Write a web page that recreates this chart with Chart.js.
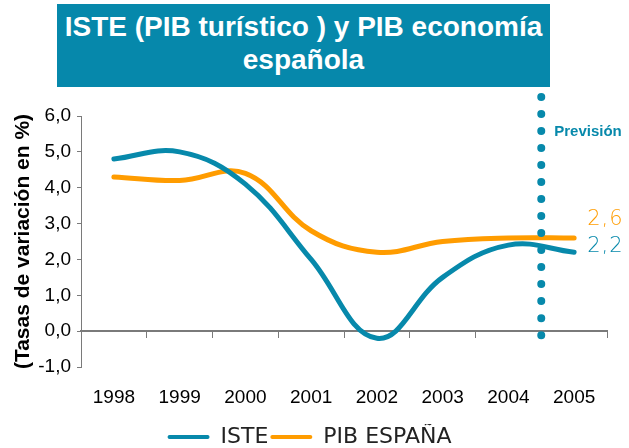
<!DOCTYPE html>
<html>
<head>
<meta charset="utf-8">
<script src="https://cdn.jsdelivr.net/npm/chart.js@4"></script>
<style>
  body { margin: 0; background: #fff; }
  #wrap { position: relative; width: 629px; height: 448px; }
  #titulo {
    position: absolute; left: 57px; top: 4px; width: 493px; height: 83px;
    box-sizing: border-box; padding-top: 6px;
    background: #0688ab; color: #fff;
    font: bold 28px "Liberation Sans", Arial, sans-serif; line-height: 33px;
    text-align: center; white-space: nowrap;
  }
</style>
</head>
<body>
<div id="wrap">
  <canvas id="myChart" width="629" height="448"></canvas>
  <div id="titulo">ISTE (PIB turístico ) y PIB economía<br>española</div>
</div>
<script>
const years = ['1998', '1999', '2000', '2001', '2002', '2003', '2004', '2005'];
const iste = [4.8, 5.0, 4.1, 2.0, -0.2, 1.5, 2.4, 2.2];
const pibEspana = [4.3, 4.2, 4.4, 2.8, 2.2, 2.5, 2.6, 2.6];
// la previsión empieza entre 2004 y 2005 (índice de categoría)
const previsionDesde = 6.5;

const TEAL = '#0789ab';
const ORANGE = '#ff9c00';
const AXIS = '#7a7a7a';

function coma(v) {
  return v.toFixed(1).replace('.', ',');
}

// línea punteada de previsión y valores finales de cada serie
const anotaciones = {
  id: 'anotaciones',
  afterDatasetsDraw(chart) {
    const ctx = chart.ctx;
    const area = chart.chartArea;
    const x = chart.scales.x.getPixelForValue(previsionDesde);
    const top = area.top - 19;
    const bottom = chart.scales.y.getPixelForValue(0) + 4;
    ctx.save();
    ctx.strokeStyle = TEAL;
    ctx.lineWidth = 8;
    ctx.lineCap = 'round';
    ctx.setLineDash([0, (bottom - top) / 14]);
    ctx.beginPath();
    ctx.moveTo(x, top);
    ctx.lineTo(x, bottom + 1);
    ctx.stroke();
    ctx.setLineDash([]);

    ctx.fillStyle = TEAL;
    ctx.font = 'bold 15px "Liberation Sans", Arial, sans-serif';
    ctx.textBaseline = 'middle';
    ctx.textAlign = 'left';
    ctx.fillText('Previsión', x + 13, area.top + 16);

    const dy = [-6, -18];
    ctx.font = '200 21px "DejaVu Sans", sans-serif';
    ctx.letterSpacing = '1px';
    chart.data.datasets.forEach((ds, i) => {
      const meta = chart.getDatasetMeta(i);
      const last = meta.data[meta.data.length - 1];
      ctx.fillStyle = ds.borderColor;
      ctx.fillText(coma(ds.data[ds.data.length - 1]), last.x + 13, last.y + dy[i]);
    });
    ctx.restore();
  }
};

const ctx = document.getElementById('myChart').getContext('2d');
const myChart = new Chart(ctx, {
  type: 'line',
  data: {
    labels: years,
    datasets: [{
      label: 'ISTE',
      data: iste,
      borderColor: TEAL,
      backgroundColor: TEAL,
      borderWidth: 5,
      borderCapStyle: 'round',
      pointRadius: 0,
      tension: 0.4
    }, {
      label: 'PIB ESPAÑA',
      data: pibEspana,
      borderColor: ORANGE,
      backgroundColor: ORANGE,
      borderWidth: 5,
      borderCapStyle: 'round',
      pointRadius: 0,
      tension: 0.4
    }]
  },
  options: {
    responsive: false,
    animation: false,
    layout: { padding: { top: 116, right: 10, bottom: -10, left: 0 } },
    plugins: {
      tooltip: { enabled: false },
      legend: {
        position: 'bottom',
        labels: {
          boxWidth: 42,
          boxHeight: 4,
          useBorderRadius: true,
          borderRadius: 2,
          padding: 2,
          color: '#222',
          font: { family: '"DejaVu Sans", sans-serif', size: 22 },
          generateLabels(chart) {
            return Chart.defaults.plugins.legend.labels.generateLabels(chart)
              .map(item => Object.assign(item, { lineWidth: 0 }));
          }
        }
      }
    },
    scales: {
      x: {
        offset: true,
        grid: { display: false, drawTicks: false },
        border: { display: false },
        ticks: {
          color: '#000',
          padding: 19,
          maxRotation: 0,
          autoSkip: false,
          font: { family: '"Liberation Sans", Arial, sans-serif', size: 19 }
        },
        afterFit(s) { s.height = 57; }
      },
      // eje en el cero con las marcas entre categorías
      xCero: {
        type: 'category',
        labels: years,
        position: { y: 0 },
        offset: true,
        grid: { offset: true, drawOnChartArea: false, drawTicks: true, tickLength: 6, color: AXIS, lineWidth: 1 },
        border: { display: true, color: AXIS, width: 2 },
        ticks: { display: false }
      },
      y: {
        min: -1,
        max: 6,
        ticks: {
          stepSize: 1,
          color: '#000',
          padding: 6,
          font: { family: '"Liberation Sans", Arial, sans-serif', size: 19 },
          callback: v => coma(v)
        },
        grid: { drawOnChartArea: false, tickLength: 4, color: AXIS },
        border: { color: AXIS },
        title: {
          display: true,
          text: '(Tasas de variación en %)',
          color: '#000',
          padding: { top: 11, bottom: 0 },
          font: { family: '"Liberation Sans", Arial, sans-serif', size: 21, weight: 'bold' }
        },
        afterFit(s) { s.width = 81; }
      },
      margenDerecho: {
        type: 'linear',
        position: 'right',
        grid: { display: false },
        border: { display: false },
        ticks: { display: false },
        afterFit(s) { s.width = 12; }
      }
    }
  },
  plugins: [anotaciones]
});
</script>
</body>
</html>
